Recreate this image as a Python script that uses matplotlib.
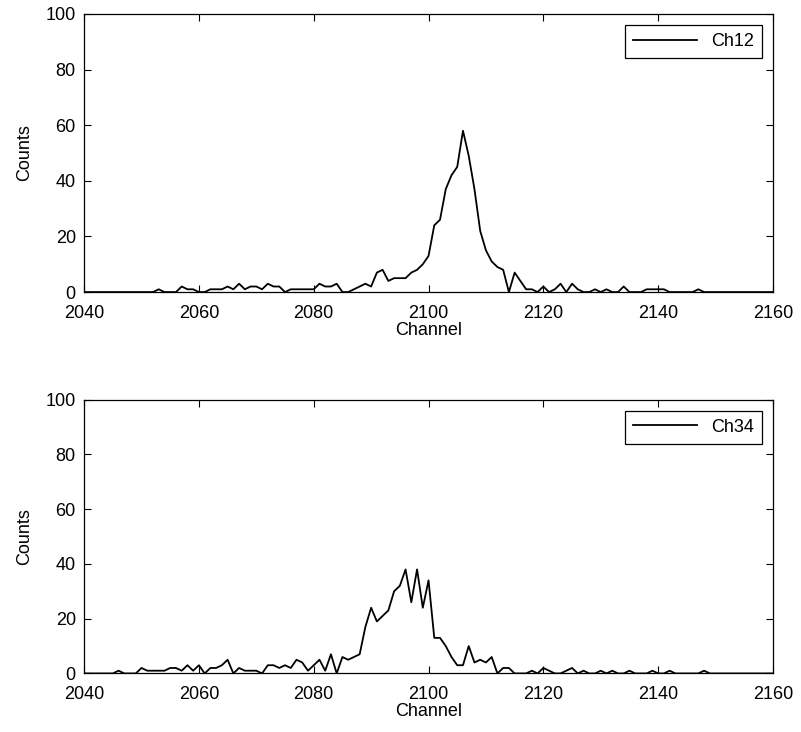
import numpy as np
import matplotlib
matplotlib.use("Agg")
import matplotlib.pyplot as plt

plt.rcParams['font.family'] = ['Liberation Sans', 'DejaVu Sans']

# channels 2040..2160
channels = np.arange(2040, 2161)

# Ch12 counts, read per channel (zeros where nothing is visible)
ch12_start = 2052
ch12_counts = [0, 1, 0, 0, 0, 2, 1, 1, 0, 0,          # 2052-2061
               1, 1, 1, 2, 1, 3, 1, 2, 2, 1,          # 2062-2071
               3, 2, 2, 0, 1, 1, 1, 1, 1, 3,          # 2072-2081
               2, 2, 3, 0, 0, 1, 2, 3, 2, 7,          # 2082-2091
               8, 4, 5, 5, 5, 7, 8, 10, 13, 24,       # 2092-2101
               26, 37, 42, 45, 58, 49, 37, 22, 15, 11,  # 2102-2111
               9, 8, 0, 7, 4, 1, 1, 0, 2, 0,          # 2112-2121
               1, 3, 0, 3, 1, 0, 0, 1, 0, 1,          # 2122-2131
               0, 0, 2, 0, 0, 0, 1, 1, 1, 1,          # 2132-2141
               0, 0, 0, 0, 0, 1, 0]                   # 2142-2148

# Ch34 counts
ch34_start = 2045
ch34_counts = [0, 1, 0, 0, 0, 2, 1, 1, 1, 1,          # 2045-2054
               2, 2, 1, 3, 1, 3, 0, 2, 2, 3,          # 2055-2064
               5, 0, 2, 1, 1, 1, 0, 3, 3, 2,          # 2065-2074
               3, 2, 5, 4, 1, 3, 5, 1, 7, 0,          # 2075-2084
               6, 5, 6, 7, 17, 24, 19, 21, 23, 30,    # 2085-2094
               32, 38, 26, 38, 24, 34, 13, 13, 10, 6,  # 2095-2104
               3, 3, 10, 4, 5, 4, 6, 0, 2, 2,         # 2105-2114
               0, 0, 0, 1, 0, 2, 1, 0, 0, 1,          # 2115-2124
               2, 0, 1, 0, 0, 1, 0, 1, 0, 0,          # 2125-2134
               1, 0, 0, 0, 1, 0, 0, 1, 0, 0,          # 2135-2144
               0, 0, 0, 1, 0]                         # 2145-2149


def full_series(start, counts):
    y = np.zeros(len(channels))
    i = start - channels[0]
    y[i:i + len(counts)] = counts
    return y


series = [("Ch12", full_series(ch12_start, ch12_counts)),
          ("Ch34", full_series(ch34_start, ch34_counts))]

fig = plt.figure(figsize=(8.01, 7.32), dpi=100)
rects = [[0.105, 0.601, 0.860, 0.380],
         [0.105, 0.080, 0.860, 0.374]]

for rect, (name, y) in zip(rects, series):
    ax = fig.add_axes(rect)
    ax.plot(channels, y, color='black', linewidth=1.3, label=name)
    ax.set_xlim(2040, 2160)
    ax.set_ylim(0, 100)
    ax.set_xticks(np.arange(2040, 2161, 20))
    ax.set_yticks(np.arange(0, 101, 20))
    ax.tick_params(direction='in', top=True, right=True, length=5,
                   width=0.8, labelsize=13)
    ax.tick_params(axis='x', pad=9)
    ax.tick_params(axis='y', pad=6)
    for s in ax.spines.values():
        s.set_linewidth(0.9)
    ax.set_xlabel("Channel", fontsize=13, labelpad=0)
    ax.set_ylabel("Counts", fontsize=13, labelpad=9)
    leg = ax.legend(loc='upper right', fontsize=13, fancybox=False,
                    edgecolor='black', framealpha=1, handlelength=3.5,
                    borderaxespad=0.6, borderpad=0.45)
    leg.get_frame().set_linewidth(0.9)

fig.savefig("out.png", dpi=100)
